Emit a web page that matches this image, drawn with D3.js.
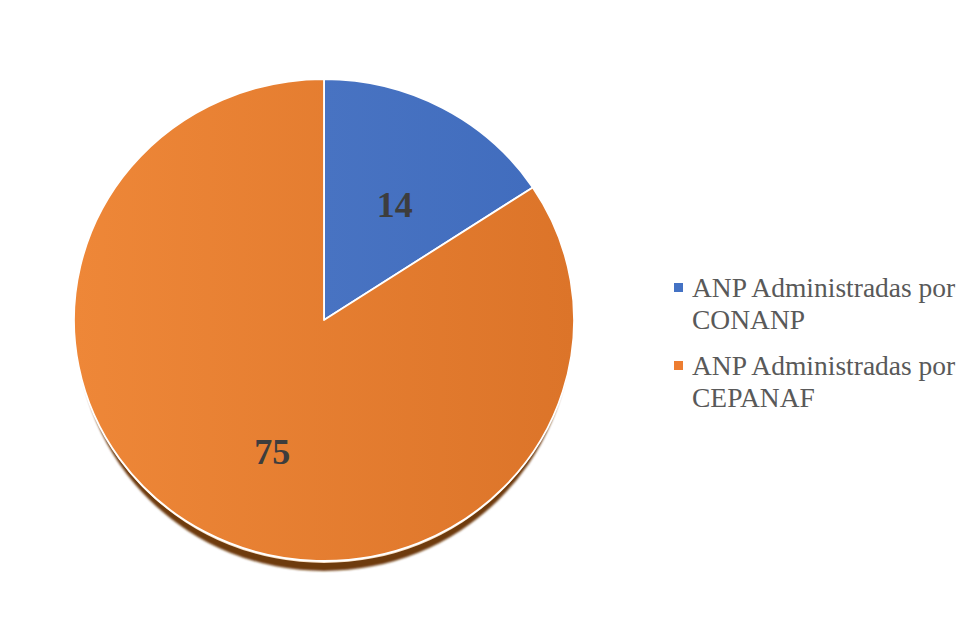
<!DOCTYPE html>
<html>
<head>
<meta charset="utf-8">
<script src="https://cdn.jsdelivr.net/npm/d3@7"></script>
<style>
  html, body { margin: 0; padding: 0; background: #ffffff; }
  svg { display: block; }
</style>
</head>
<body>
<svg id="chart" width="969" height="629"></svg>
<script>
const categories = ["ANP Administradas por CONANP", "ANP Administradas por CEPANAF"];
const legendLines = [["ANP Administradas por", "CONANP"], ["ANP Administradas por", "CEPANAF"]];
const values = [14, 75];
const colors = ["#4472C4", "#ED7D31"];

const svg = d3.select("#chart");
const cx = 324, cy = 320, rx = 250, ry = 241;
const sy = ry / rx;

const defs = svg.append("defs");
const gOrange = defs.append("linearGradient").attr("id", "gradOrange")
  .attr("x1", "0%").attr("x2", "100%").attr("y1", "0%").attr("y2", "0%");
gOrange.append("stop").attr("offset", "0%").attr("stop-color", "#EE8738");
gOrange.append("stop").attr("offset", "100%").attr("stop-color", "#DC7429");
const gBlue = defs.append("linearGradient").attr("id", "gradBlue")
  .attr("x1", "0%").attr("x2", "100%").attr("y1", "0%").attr("y2", "0%");
gBlue.append("stop").attr("offset", "0%").attr("stop-color", "#4873C2");
gBlue.append("stop").attr("offset", "100%").attr("stop-color", "#416DBE");
const fills = ["url(#gradBlue)", "url(#gradOrange)"];

const blur = defs.append("filter").attr("id", "shblur")
  .attr("x", "-10%").attr("y", "-10%").attr("width", "120%").attr("height", "120%");
blur.append("feGaussianBlur").attr("stdDeviation", 1.2);

const pie = d3.pie().sort(null).value(d => d);
const arcs = pie(values);
const arc = d3.arc().innerRadius(0).outerRadius(rx);

// shadow / depth
svg.append("ellipse")
  .attr("cx", cx).attr("cy", cy + 10)
  .attr("rx", rx - 4).attr("ry", ry)
  .attr("fill", "#6e3a10")
  .attr("filter", "url(#shblur)");
svg.append("ellipse")
  .attr("cx", cx).attr("cy", cy + 2)
  .attr("rx", rx - 1).attr("ry", ry)
  .attr("fill", "#f6dcc0");

const g = svg.append("g").attr("transform", `translate(${cx},${cy}) scale(1,${sy})`);
g.selectAll("path.slice")
  .data(arcs)
  .enter().append("path")
  .attr("class", "slice")
  .attr("d", arc)
  .attr("fill", (d, i) => fills[i])
  .attr("stroke", "#ffffff")
  .attr("stroke-width", 1.8)
  .attr("stroke-linejoin", "round")
  .attr("vector-effect", "non-scaling-stroke");

// data labels
const labelArc = d3.arc().innerRadius(rx * 0.58).outerRadius(rx * 0.58);
const labelOffsets = [[2, 12], [17, 13]];
svg.selectAll("text.val")
  .data(arcs)
  .enter().append("text")
  .attr("class", "val")
  .attr("x", (d, i) => cx + labelArc.centroid(d)[0] + labelOffsets[i][0])
  .attr("y", (d, i) => cy + labelArc.centroid(d)[1] * sy + labelOffsets[i][1])
  .attr("text-anchor", "middle")
  .attr("dominant-baseline", "middle")
  .attr("font-family", "'Liberation Serif', 'Times New Roman', serif")
  .attr("font-weight", "bold")
  .attr("font-size", 36)
  .attr("fill", "#3d3d3d")
  .text(d => d.data);

// legend
const legend = svg.append("g").attr("transform", "translate(674,283)");
const entry = legend.selectAll("g.entry")
  .data(categories)
  .enter().append("g")
  .attr("class", "entry")
  .attr("transform", (d, i) => `translate(0,${i * 78})`);
entry.append("rect")
  .attr("x", 0).attr("y", 0).attr("width", 9).attr("height", 9)
  .attr("fill", (d, i) => colors[i]);
entry.each(function(d, i) {
  const t = d3.select(this).append("text")
    .attr("font-family", "'Liberation Serif', 'Times New Roman', serif")
    .attr("font-size", 27.5)
    .attr("fill", "#595959");
  legendLines[i].forEach((line, j) => {
    t.append("tspan").attr("x", 18).attr("y", 14 + j * 32).text(line);
  });
});
</script>
</body>
</html>
